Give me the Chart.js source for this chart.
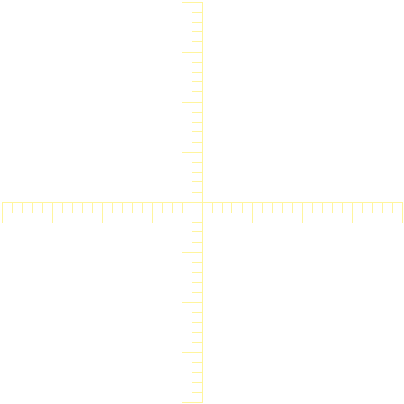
<!DOCTYPE html>
<html>
<head>
<meta charset="utf-8">
<script src="https://cdn.jsdelivr.net/npm/chart.js@4"></script>
<style>
  html, body { margin: 0; padding: 0; background: #fff; }
  #wrap { width: 404px; height: 404px; }
</style>
</head>
<body>
<div id="wrap"><canvas id="axes" width="404" height="404"></canvas></div>
<script>
// axis ranges and tick spacing
const xRange = [-20, 20];
const yRange = [-20, 20];
const minorStep = 1;
const majorStep = 5;
const hiddenTicks = [-1];
const points = [];

const AXIS_COLOR = "#fff59d";

function axis(range, step, len, hide) {
  return {
    type: "linear",
    position: "center",
    min: range[0],
    max: range[1],
    border: { display: true, color: AXIS_COLOR, width: 1 },
    grid: {
      drawOnChartArea: false,
      drawTicks: true,
      tickLength: len,
      tickWidth: 1,
      tickColor: ctx => (hide && ctx.tick && hiddenTicks.includes(ctx.tick.value)) ? "rgba(0,0,0,0)" : AXIS_COLOR,
    },
    ticks: { display: false, stepSize: step },
  };
}

new Chart(document.getElementById("axes"), {
  type: "scatter",
  data: { datasets: [{ data: points, pointRadius: 0 }] },
  options: {
    responsive: false,
    animation: false,
    layout: { padding: 2 },
    plugins: { legend: { display: false }, tooltip: { enabled: false } },
    scales: {
      x:  axis(xRange, minorStep, 10, true),
      x2: { ...axis(xRange, majorStep, 20, false), axis: "x" },
      y:  axis(yRange, minorStep, 10, true),
      y2: { ...axis(yRange, majorStep, 20, false), axis: "y" },
    },
  },
});
</script>
</body>
</html>
